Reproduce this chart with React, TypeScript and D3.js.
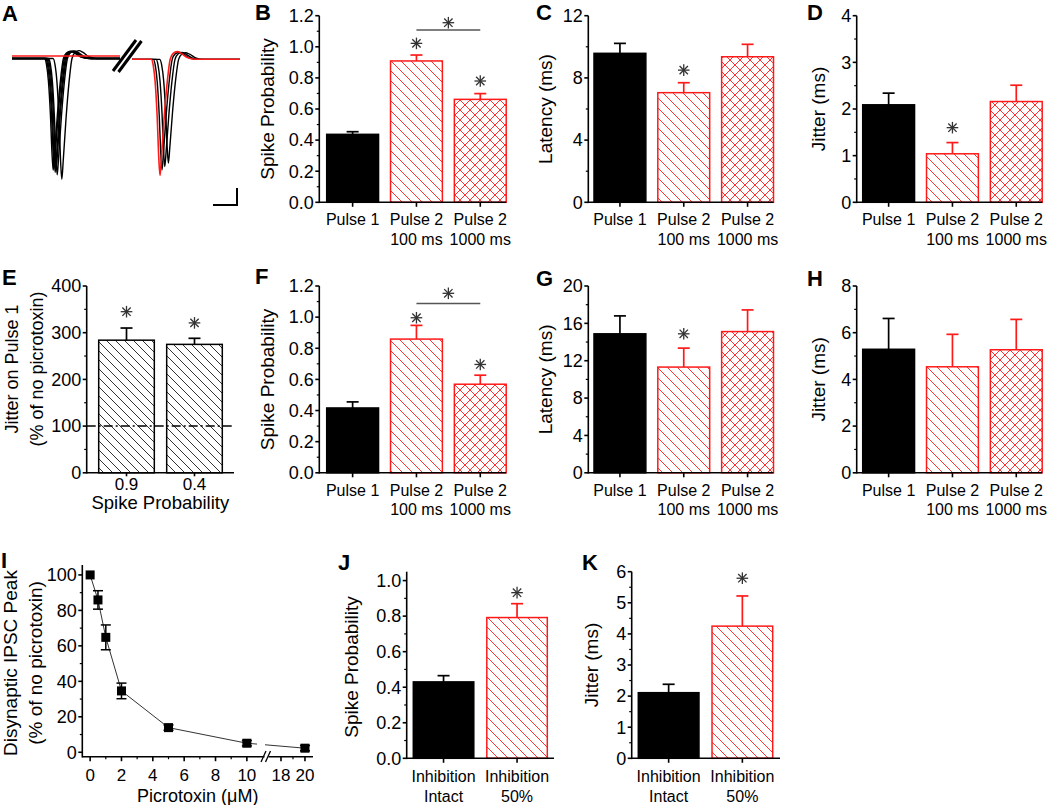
import React from "react";
import * as d3 from "d3";

const FONT = "'Liberation Sans', Arial, Helvetica, sans-serif";
const RED = "#ff1a1a";

// ---------------- Panel A : traces ----------------
const spikeShapeT = [-60, 0, 1, 2, 3, 3.8, 4.4, 5.1, 6.5, 8, 9.5, 11, 13, 15, 18, 22, 60];
const spikeShapeV = [0, 0, -0.05, -0.2, -0.5, -0.85, -1, -0.85, -0.5, -0.2, 0, 0.05, 0.065, 0.05, 0.015, 0, 0];
const traceSegments: [number, number][] = [[0, 54], [60, 114]];
const seg1BlackOnsets = [16.2, 16.7, 17.2, 17.7, 18.2, 20.5];
const seg1BlackAmps = [0.98, 0.94, 1.0, 0.96, 1.02, 1.06];
const seg2BlackOnsets = [70.6, 72.0, 73.8];
const seg2BlackAmps = [0.97, 0.94, 0.91];
const seg2RedOnsets = [69.6];
const seg2RedAmps = [1.02];

// ---------------- Bar data ----------------
const pulseCats = ["Pulse 1", "Pulse 2\n100 ms", "Pulse 2\n1000 ms"];
const bProb = [0.437, 0.909, 0.662];
const bProbErr = [0.017, 0.038, 0.037];
const bStars = [null, 1.022, 0.78];
const cLat = [9.58, 7.05, 9.36];
const cLatErr = [0.64, 0.64, 0.8];
const cStars = [null, 8.5, null];
const dJit = [2.09, 1.04, 2.16];
const dJitErr = [0.25, 0.24, 0.35];
const dStars = [null, 1.6, null];

const eCats = ["0.9", "0.4"];
const eJit = [284, 275];
const eJitErr = [26, 13];
const eStars = [345, 321];

const fProb = [0.4165, 0.859, 0.569];
const fProbErr = [0.039, 0.088, 0.058];
const fStars = [null, 0.996, 0.696];
const gLat = [14.88, 11.32, 15.12];
const gLatErr = [1.92, 2.03, 2.32];
const gStars = [null, 14.88, null];
const hJit = [5.29, 4.54, 5.27];
const hJitErr = [1.32, 1.39, 1.3];
const hStars = [null, null, null];

const inhCats = ["Inhibition\nIntact", "Inhibition\n50%"];
const jProb = [0.43, 0.792];
const jProbErr = [0.035, 0.078];
const jStars = [null, 0.932];
const kJit = [2.11, 4.25];
const kJitErr = [0.27, 0.97];
const kStars = [null, 5.79];

// ---------------- Panel I ----------------
const iConc = [0, 0.5, 1, 2, 5, 10, 20];
const iPeak = [100, 85.9, 64.8, 34.6, 13.9, 5.1, 2.3];
const iErr = [0, 5.2, 7, 4.4, 1.5, 1.5, 1.5];

// ---------------- Ticks ----------------
const probTicks = [0, 0.2, 0.4, 0.6, 0.8, 1.0, 1.2];
const probMinor = [0.1, 0.3, 0.5, 0.7, 0.9, 1.1];
const cTicks = [0, 4, 8, 12];
const cMinor = [2, 6, 10];
const dTicks = [0, 1, 2, 3, 4];
const dMinor = [0.5, 1.5, 2.5, 3.5];
const eTicks = [0, 100, 200, 300, 400];
const eMinor = [50, 150, 250, 350];
const gTicks = [0, 4, 8, 12, 16, 20];
const gMinor = [2, 6, 10, 14, 18];
const hTicks = [0, 2, 4, 6, 8];
const hMinor = [1, 3, 5, 7];
const jTicks = [0, 0.2, 0.4, 0.6, 0.8, 1.0];
const jMinor = [0.1, 0.3, 0.5, 0.7, 0.9];
const kTicks = [0, 1, 2, 3, 4, 5, 6];
const kMinor = [0.5, 1.5, 2.5, 3.5, 4.5, 5.5];
const iYTicks = [0, 20, 40, 60, 80, 100];
const iYMinor = [10, 30, 50, 70, 90];
const iXTicks1 = [0, 2, 4, 6, 8, 10];
const iXMinor1 = [1, 3, 5, 7, 9];
const iXTicks2 = [18, 20];
const iXMinor2 = [19];

const styleFill: Record<string, string> = {
  black: "black",
  redDiag: "url(#redDiag)",
  redCross: "url(#redCross)",
  blackDiag: "url(#blackDiag)",
};
const styleStroke: Record<string, string> = {
  black: "black",
  redDiag: RED,
  redCross: RED,
  blackDiag: "black",
};

const f1 = d3.format(".1f");
const f0 = d3.format("d");

const Asterisk = ({ cx, cy, r = 5.8 }: { cx: number; cy: number; r?: number }) => {
  const d = r * 0.72;
  return (
    <g stroke="#333" strokeWidth={1.3}>
      <line x1={cx - r} x2={cx + r} y1={cy} y2={cy} />
      <line x1={cx} x2={cx} y1={cy - r} y2={cy + r} />
      <line x1={cx - d} x2={cx + d} y1={cy - d} y2={cy + d} />
      <line x1={cx - d} x2={cx + d} y1={cy + d} y2={cy - d} />
    </g>
  );
};

type Spec = {
  letter: string;
  letterX: number;
  letterY: number;
  axisX: number;
  top: number;
  bottom: number;
  band: [number, number];
  pad: number;
  xEnd: number;
  domain: [number, number];
  ticks: number[];
  minor: number[];
  fmt: (v: number) => string;
  title: string[];
  titleX: number[];
  titleSize: number;
  titleY?: number;
  cats: string[];
  catSize: number;
  catDy: number[];
  values: number[];
  errors: number[];
  styles: string[];
  stars: (number | null)[];
  bracket?: { a: number; b: number; y: number; star: number };
  xTitle?: string;
  xTitleY?: number;
  dashed?: number;
  xTick?: number;
};

const BarPanel = ({ s }: { s: Spec }) => {
  const y = d3.scaleLinear().domain(s.domain).range([s.bottom, s.top]);
  const x = d3.scaleBand<string>().domain(s.cats).range(s.band).paddingInner(s.pad).paddingOuter(0);
  const bw = x.bandwidth();
  const cx = (c: string) => (x(c) as number) + bw / 2;
  const ty = s.titleY ?? (s.top + s.bottom) / 2;
  const xt = s.xTick ?? 4.5;
  return (
    <g fontFamily={FONT}>
      <text x={s.letterX} y={s.letterY} fontSize={22} fontWeight="bold">
        {s.letter}
      </text>
      {s.cats.map((c, i) => (
        <g key={c}>
          <rect
            x={x(c)}
            y={y(s.values[i])}
            width={bw}
            height={y(s.domain[0]) - y(s.values[i])}
            fill={styleFill[s.styles[i]]}
            stroke={styleStroke[s.styles[i]]}
            strokeWidth={1.5}
          />
          <g stroke={styleStroke[s.styles[i]]} strokeWidth={1.7}>
            <line x1={cx(c)} x2={cx(c)} y1={y(s.values[i])} y2={y(s.values[i] + s.errors[i])} />
            <line x1={cx(c) - 6} x2={cx(c) + 6} y1={y(s.values[i] + s.errors[i])} y2={y(s.values[i] + s.errors[i])} />
          </g>
          {s.stars[i] != null && <Asterisk cx={cx(c)} cy={y(s.stars[i] as number)} />}
        </g>
      ))}
      {s.dashed != null && (
        <line
          x1={s.axisX}
          x2={s.xEnd}
          y1={y(s.dashed)}
          y2={y(s.dashed)}
          stroke="black"
          strokeWidth={1.5}
          strokeDasharray="9 3 2 3"
        />
      )}
      {s.bracket && (
        <g>
          <line
            x1={cx(s.cats[s.bracket.a])}
            x2={cx(s.cats[s.bracket.b])}
            y1={y(s.bracket.y)}
            y2={y(s.bracket.y)}
            stroke="#555"
            strokeWidth={1.5}
          />
          <Asterisk
            cx={(cx(s.cats[s.bracket.a]) + cx(s.cats[s.bracket.b])) / 2}
            cy={y(s.bracket.star)}
          />
        </g>
      )}
      <g stroke="black" strokeWidth={1.6}>
        <line x1={s.axisX} x2={s.axisX} y1={s.bottom + 0.8} y2={s.top} />
        <line x1={s.axisX} x2={s.xEnd} y1={s.bottom} y2={s.bottom} />
        {s.ticks.map((t) => (
          <line key={"t" + t} x1={s.axisX - 4} x2={s.axisX} y1={y(t)} y2={y(t)} />
        ))}
        {s.minor.map((t) => (
          <line key={"m" + t} x1={s.axisX - 2.5} x2={s.axisX} y1={y(t)} y2={y(t)} strokeWidth={1.2} />
        ))}
        {s.cats.map((c) => (
          <line key={"x" + c} x1={cx(c)} x2={cx(c)} y1={s.bottom} y2={s.bottom + xt} />
        ))}
      </g>
      {s.ticks.map((t) => (
        <text key={"l" + t} x={s.axisX - 5.5} y={y(t)} dy="0.35em" textAnchor="end" fontSize={18}>
          {s.fmt(t)}
        </text>
      ))}
      {s.cats.map((c) =>
        c.split("\n").map((line, k) => (
          <text key={c + k} x={cx(c)} y={s.bottom + s.catDy[k]} textAnchor="middle" fontSize={s.catSize}>
            {line}
          </text>
        ))
      )}
      {s.title.map((t, k) => (
        <text
          key={t}
          transform={`translate(${s.titleX[k]},${ty}) rotate(-90)`}
          dy="0.35em"
          textAnchor="middle"
          fontSize={s.titleSize}
        >
          {t}
        </text>
      ))}
      {s.xTitle && (
        <text x={(s.axisX + s.xEnd) / 2} y={s.xTitleY} textAnchor="middle" fontSize={18.5}>
          {s.xTitle}
        </text>
      )}
    </g>
  );
};

const row1 = { top: 15.7, bottom: 202.3 };
const row2 = { top: 286, bottom: 472.8 };
const colB = { axisX: 319.3, band: [326.7, 506.2] as [number, number], xEnd: 506.2, titleX: [267] };
const colC = { axisX: 588.3, band: [594, 773.5] as [number, number], xEnd: 773.5, titleX: [545.5] };
const colD = { axisX: 856.7, band: [862.7, 1042.2] as [number, number], xEnd: 1042.2, titleX: [818.5] };
const pulseCommon = { pad: 0.1875, cats: pulseCats, catSize: 16, catDy: [23, 42.5], titleSize: 19 };

const specs: Spec[] = [
  {
    ...pulseCommon, ...row1, ...colB, letter: "B", letterX: 255, letterY: 20,
    domain: [0, 1.2], ticks: probTicks, minor: probMinor, fmt: f1, title: ["Spike Probability"],
    values: bProb, errors: bProbErr, styles: ["black", "redDiag", "redCross"], stars: bStars,
    bracket: { a: 1, b: 2, y: 1.108, star: 1.155 },
  },
  {
    ...pulseCommon, ...row1, ...colC, letter: "C", letterX: 536, letterY: 20,
    domain: [0, 12], ticks: cTicks, minor: cMinor, fmt: f0, title: ["Latency (ms)"],
    values: cLat, errors: cLatErr, styles: ["black", "redDiag", "redCross"], stars: cStars,
  },
  {
    ...pulseCommon, ...row1, ...colD, letter: "D", letterX: 807, letterY: 20,
    domain: [0, 4], ticks: dTicks, minor: dMinor, fmt: f0, title: ["Jitter (ms)"],
    values: dJit, errors: dJitErr, styles: ["black", "redDiag", "redCross"], stars: dStars,
  },
  {
    letter: "E", letterX: 2, letterY: 285, axisX: 86.7, ...row2, band: [98.7, 222.3], pad: 0.182, xEnd: 234,
    domain: [0, 400], ticks: eTicks, minor: eMinor, fmt: f0,
    title: ["Jitter on Pulse 1", "(% of no picrotoxin)"], titleX: [12, 37], titleSize: 18, titleY: 369,
    cats: eCats, catSize: 17, catDy: [17], xTick: 3.5,
    values: eJit, errors: eJitErr, styles: ["blackDiag", "blackDiag"], stars: eStars,
    xTitle: "Spike Probability", xTitleY: 509, dashed: 100,
  },
  {
    ...pulseCommon, ...row2, ...colB, letter: "F", letterX: 255, letterY: 284,
    domain: [0, 1.2], ticks: probTicks, minor: probMinor, fmt: f1, title: ["Spike Probability"],
    values: fProb, errors: fProbErr, styles: ["black", "redDiag", "redCross"], stars: fStars,
    bracket: { a: 1, b: 2, y: 1.088, star: 1.153 },
  },
  {
    ...pulseCommon, ...row2, ...colC, letter: "G", letterX: 536, letterY: 286,
    domain: [0, 20], ticks: gTicks, minor: gMinor, fmt: f0, title: ["Latency (ms)"],
    values: gLat, errors: gLatErr, styles: ["black", "redDiag", "redCross"], stars: gStars,
  },
  {
    ...pulseCommon, ...row2, ...colD, letter: "H", letterX: 807, letterY: 286,
    domain: [0, 8], ticks: hTicks, minor: hMinor, fmt: f0, title: ["Jitter (ms)"],
    values: hJit, errors: hJitErr, styles: ["black", "redDiag", "redCross"], stars: hStars,
  },
  {
    letter: "J", letterX: 338, letterY: 570, axisX: 406.7, top: 571.7, bottom: 758.3,
    band: [413.3, 547.3], pad: 0.177, xEnd: 554,
    domain: [0, 1.05], ticks: jTicks, minor: jMinor, fmt: f1, title: ["Spike Probability"], titleX: [351],
    titleSize: 19, titleY: 667, cats: inhCats, catSize: 16, catDy: [23.5, 44],
    values: jProb, errors: jProbErr, styles: ["black", "redDiag"], stars: jStars,
  },
  {
    letter: "K", letterX: 582, letterY: 570, axisX: 631.7, top: 571.7, bottom: 758.3,
    band: [638.3, 772.7], pad: 0.177, xEnd: 780,
    domain: [0, 6], ticks: kTicks, minor: kMinor, fmt: f0, title: ["Jitter (ms)"], titleX: [591],
    titleSize: 19, cats: inhCats, catSize: 16, catDy: [23.5, 44],
    values: kJit, errors: kJitErr, styles: ["black", "redDiag"], stars: kStars,
  },
];

const PanelA = () => {
  const tx = d3.scaleLinear().domain([0, 114]).range([12, 240]);
  const vy = d3.scaleLinear().domain([0, -1]).range([56, 170]);
  const line = d3
    .line<[number, number]>()
    .x((d) => tx(d[0]))
    .y((d) => vy(d[1]))
    .curve(d3.curveMonotoneX);
  const trace = (seg: [number, number], onset: number | null, amp: number, base: number) => {
    const [t0, t1] = seg;
    const pts: [number, number][] = [[t0, base]];
    if (onset != null) {
      spikeShapeT.forEach((dt, i) => {
        const t = onset + dt;
        if (t > t0 && t < t1) pts.push([t, base + amp * spikeShapeV[i]]);
      });
    }
    pts.push([t1, base]);
    return line(pts) as string;
  };
  return (
    <g fontFamily={FONT}>
      <text x={2} y={21} fontSize={22} fontWeight="bold">
        A
      </text>
      <g fill="none" strokeWidth={1.4} strokeLinejoin="round">
        {seg1BlackOnsets.map((o, i) => (
          <path key={"b1" + i} d={trace(traceSegments[0], o, seg1BlackAmps[i], -0.022)} stroke="black" />
        ))}
        {seg2BlackOnsets.map((o, i) => (
          <path key={"b2" + i} d={trace(traceSegments[1], o, seg2BlackAmps[i], -0.03)} stroke="black" />
        ))}
        <path d={trace(traceSegments[0], null, 0, 0)} stroke={RED} strokeWidth={1.6} />
        {seg2RedOnsets.map((o, i) => (
          <path key={"r2" + i} d={trace(traceSegments[1], o, seg2RedAmps[i], -0.028)} stroke={RED} strokeWidth={1.6} />
        ))}
      </g>
      <g stroke="black" strokeWidth={3}>
        <line x1={113} y1={71} x2={136} y2={40} />
        <line x1={118.5} y1={72} x2={141.5} y2={41} />
      </g>
      <g stroke="black" strokeWidth={2} fill="none">
        <path d="M213,205 L237,205 L237,188" />
      </g>
    </g>
  );
};

const PanelI = () => {
  const iy = d3.scaleLinear().domain([-2.5, 105.6]).range([756.7, 565]);
  const ix1 = d3.scaleLinear().domain([-0.5, 11.17]).range([82.3, 265.2]);
  const ix2 = d3.scaleLinear().domain([17.25, 20.67]).range([272, 313]);
  const ix = (v: number) => (v <= 11.17 ? ix1(v) : ix2(v));
  const pts = iConc.map((c, i) => [ix(c), iy(iPeak[i])] as [number, number]);
  const segs: string[] = [];
  for (let i = 0; i < pts.length - 1; i++) {
    const [x0, y0] = pts[i];
    const [x1, y1] = pts[i + 1];
    if (iConc[i] <= 11.17 && iConc[i + 1] > 11.17) {
      const at = (xx: number) => y0 + ((xx - x0) / (x1 - x0)) * (y1 - y0);
      segs.push(`M${x0},${y0}L257,${at(257)}`);
      segs.push(`M265,${at(265)}L${x1},${y1}`);
    } else segs.push(`M${x0},${y0}L${x1},${y1}`);
  }
  const axY = 756.7;
  const axX = 82.3;
  return (
    <g fontFamily={FONT}>
      <text x={1} y={568} fontSize={22} fontWeight="bold">
        I
      </text>
      <path d={segs.join("")} stroke="#333" strokeWidth={1} fill="none" />
      <g stroke="black" strokeWidth={1.5}>
        {iConc.map((c, i) =>
          iErr[i] > 0 ? (
            <g key={"e" + c}>
              <line x1={ix(c)} x2={ix(c)} y1={iy(iPeak[i] - iErr[i])} y2={iy(iPeak[i] + iErr[i])} />
              <line x1={ix(c) - 5} x2={ix(c) + 5} y1={iy(iPeak[i] - iErr[i])} y2={iy(iPeak[i] - iErr[i])} />
              <line x1={ix(c) - 5} x2={ix(c) + 5} y1={iy(iPeak[i] + iErr[i])} y2={iy(iPeak[i] + iErr[i])} />
            </g>
          ) : null
        )}
      </g>
      {iConc.map((c, i) => (
        <rect key={"s" + c} x={ix(c) - 4.5} y={iy(iPeak[i]) - 4.5} width={9} height={9} fill="black" />
      ))}
      <g stroke="black" strokeWidth={1.6}>
        <line x1={axX} x2={axX} y1={axY + 0.8} y2={565} />
        <line x1={axX} x2={264.5} y1={axY} y2={axY} />
        <line x1={268.5} x2={313} y1={axY} y2={axY} />
        <line x1={261} x2={266} y1={762} y2={751} strokeWidth={1.3} />
        <line x1={265.5} x2={270.5} y1={762} y2={751} strokeWidth={1.3} />
        {iYTicks.map((t) => (
          <line key={"y" + t} x1={axX - 4} x2={axX} y1={iy(t)} y2={iy(t)} />
        ))}
        {iYMinor.map((t) => (
          <line key={"ym" + t} x1={axX - 2.5} x2={axX} y1={iy(t)} y2={iy(t)} strokeWidth={1.2} />
        ))}
        {[...iXTicks1, ...iXTicks2].map((t) => (
          <line key={"x" + t} x1={ix(t)} x2={ix(t)} y1={axY} y2={axY + 4.5} />
        ))}
        {[...iXMinor1, ...iXMinor2].map((t) => (
          <line key={"xm" + t} x1={ix(t)} x2={ix(t)} y1={axY} y2={axY + 2.5} strokeWidth={1.2} />
        ))}
      </g>
      {iYTicks.map((t) => (
        <text key={"yl" + t} x={axX - 5.5} y={iy(t)} dy="0.35em" textAnchor="end" fontSize={18}>
          {t}
        </text>
      ))}
      {[...iXTicks1, ...iXTicks2].map((t) => (
        <text key={"xl" + t} x={ix(t)} y={781} textAnchor="middle" fontSize={17}>
          {t}
        </text>
      ))}
      <text x={197.7} y={801.5} textAnchor="middle" fontSize={18}>
        Picrotoxin (μM)
      </text>
      {["Disynaptic IPSC Peak", "(% of no picrotoxin)"].map((t, k) => (
        <text
          key={t}
          transform={`translate(${[10, 35][k]},${663}) rotate(-90)`}
          dy="0.35em"
          textAnchor="middle"
          fontSize={19}
        >
          {t}
        </text>
      ))}
    </g>
  );
};

export default function App() {
  return (
    <svg
      width={1050}
      height={805}
      style={{ position: "absolute", left: 0, top: 0, background: "white" }}
    >
      <defs>
        <pattern id="redDiag" patternUnits="userSpaceOnUse" width={10} height={10}>
          <rect width={10} height={10} fill="white" />
          <path d="M-2,-2L12,12M-2,8L2,12M8,-2L12,2" stroke={RED} strokeWidth={0.9} />
        </pattern>
        <pattern id="redCross" patternUnits="userSpaceOnUse" width={10} height={10}>
          <rect width={10} height={10} fill="white" />
          <path d="M-2,-2L12,12M-2,8L2,12M8,-2L12,2M-2,12L12,-2M-2,2L2,-2M8,12L12,8" stroke={RED} strokeWidth={0.9} />
        </pattern>
        <pattern id="blackDiag" patternUnits="userSpaceOnUse" width={9} height={9}>
          <rect width={9} height={9} fill="white" />
          <path d="M-2,-2L11,11M-2,7L2,11M7,-2L11,2" stroke="black" strokeWidth={0.8} />
        </pattern>
      </defs>
      <rect width={1050} height={805} fill="white" />
      <PanelA />
      {specs.map((s) => (
        <BarPanel key={s.letter} s={s} />
      ))}
      <PanelI />
    </svg>
  );
}
